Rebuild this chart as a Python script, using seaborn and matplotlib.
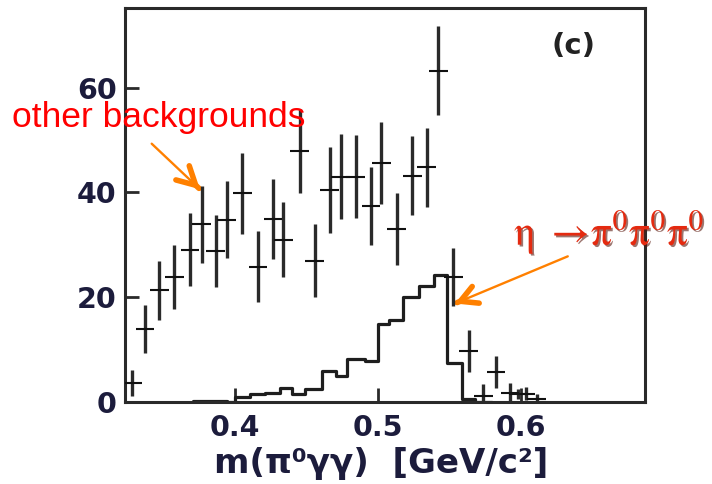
import numpy as np
import pandas as pd
import matplotlib
matplotlib.use("Agg")
import matplotlib.pyplot as plt
import matplotlib.patheffects as pe
import seaborn as sns

# --- data -------------------------------------------------------------
# measured points: m(pi0 gamma gamma) [GeV/c^2], entries and uncertainty
pt_mass = [0.3282, 0.3371, 0.3471, 0.3576, 0.3685, 0.3767, 0.3865, 0.3942,
           0.4052, 0.4161, 0.4266, 0.4338, 0.4452, 0.4557, 0.4662, 0.4738,
           0.4843, 0.4951, 0.5024, 0.5131, 0.5240, 0.5341, 0.5422, 0.5527,
           0.5634, 0.5736, 0.5825, 0.5923, 0.5981, 0.6035, 0.6110]
pt_counts = [3.6, 13.9, 21.3, 23.9, 29.1, 33.9, 28.8, 34.8,
             39.8, 25.8, 34.9, 31.0, 47.9, 27.0, 40.4, 43.0,
             43.0, 37.4, 45.6, 33.0, 43.2, 44.8, 63.2, 23.8,
             9.7, 1.1, 5.7, 1.8, 1.5, 1.6, 0.5]
pt_err = [2.5, 4.6, 5.6, 6.1, 7.0, 7.3, 6.9, 7.3,
          7.8, 6.8, 7.7, 7.1, 8.0, 6.9, 8.2, 8.1,
          7.9, 7.5, 7.8, 6.8, 7.6, 7.5, 8.5, 5.5,
          4.0, 2.4, 3.1, 1.9, 1.0, 1.25, 1.1]
pt_halfwidth = 0.0065

# eta -> 3 pi0 expectation (step histogram)
sig_edges = [0.3706, 0.3825, 0.3944, 0.4000, 0.4105, 0.4210, 0.4315, 0.4397,
             0.4493, 0.4608, 0.4706, 0.4783, 0.4909, 0.5002, 0.5077, 0.5175,
             0.5287, 0.5392, 0.5483, 0.5585, 0.5678, 0.5800]
sig_counts = [0.25, 0.25, 0.0, 0.9, 1.6, 1.8, 2.7, 1.5,
              2.4, 5.9, 4.9, 8.3, 7.9, 14.9, 15.7, 20.1,
              22.2, 24.2, 7.5, 0.6, 0.0]

x_ticks = [0.4, 0.5, 0.6]
x_ticklabels = ["0.4", "0.5", "0.6"]
y_ticks = [0, 20, 40, 60]
y_ticklabels = ["0", "20", "40", "60"]

# --- figure -----------------------------------------------------------
sns.set_theme(style="ticks")
plt.rcParams["font.family"] = ["DejaVu Sans"]
plt.rcParams["mathtext.fontset"] = "stix"

W, H = 712, 484
fig = plt.figure(figsize=(W / 100, H / 100), dpi=100)
fig.patch.set_facecolor("white")
ax = fig.add_axes([125 / W, 82 / H, 520 / W, 394 / H])
ax.set_facecolor("white")

edges = np.array(sig_edges)
sig_df = pd.DataFrame({"mass": 0.5 * (edges[:-1] + edges[1:]),
                       "counts": sig_counts})
sns.histplot(data=sig_df, x="mass", weights="counts", bins=list(sig_edges),
             element="step", fill=False, color="#1e1e1e", linewidth=2.3,
             ax=ax)

ax.errorbar(pt_mass, pt_counts, yerr=pt_err, fmt="none",
            ecolor="#2a2a2a", elinewidth=2.4, capsize=0, zorder=4)
ax.errorbar(pt_mass, pt_counts, xerr=pt_halfwidth, fmt="none",
            ecolor="#111111", elinewidth=1.5, capsize=0, zorder=4)

ax.set_xlim(0.32308, 0.68671)
ax.set_ylim(0, 75.2)
ax.set_xticks(x_ticks)
ax.set_xticklabels(x_ticklabels)
ax.set_yticks(y_ticks)
ax.set_yticklabels(y_ticklabels)
ax.tick_params(axis="both", direction="in", length=10, width=2.0,
               color="#2a2a2a", labelcolor="#1c1c3c", labelsize=20.5)
ax.tick_params(axis="x", pad=9)
ax.tick_params(axis="y", pad=6)
for lab in ax.get_xticklabels() + ax.get_yticklabels():
    lab.set_fontweight("bold")
for s in ax.spines.values():
    s.set_visible(True)
    s.set_linewidth(2.2)
    s.set_color("#2a2a2a")
ax.grid(False)

ax.set_ylabel("")
ax.set_xlabel("m(π⁰γγ)  [GeV/c²]", fontsize=24.5, fontweight="bold",
              color="#1c1c3c")
ax.xaxis.set_label_coords(0.492, -0.155)
ax.xaxis.label.set_va("center")

fig.text(573 / W, 1 - 46 / H, "(c)", ha="center", va="center",
         fontsize=21, fontweight="bold", color="#222222")

# annotations
fig.text(12 / W, 1 - 127 / H, "other backgrounds", color="#ff0000",
         fontsize=25.5, family=["Liberation Sans", "DejaVu Sans"],
         va="baseline", ha="left")
fig.text(514 / W, 1 - 245 / H,
         r"$\mathrm{\eta}\ \rightarrow\!\mathrm{\pi^0\pi^0\pi^0}$",
         color="#e42a10", fontsize=30, va="baseline", ha="left",
         path_effects=[pe.SimplePatchShadow(offset=(1.3, -1.3),
                                            shadow_rgbFace="#5a1a10",
                                            alpha=0.6),
                       pe.Normal()])

arrow_color = "#ff8000"


def orange_arrow(start, tip, head_len, head_wid):
    ax.annotate("", xy=tip, xytext=start,
                arrowprops=dict(arrowstyle="-", lw=1.7, color=arrow_color,
                                shrinkA=0, shrinkB=0),
                annotation_clip=False)
    near = (tip[0] + 0.02 * (start[0] - tip[0]),
            tip[1] + 0.02 * (start[1] - tip[1]))
    ax.annotate("", xy=tip, xytext=near,
                arrowprops=dict(arrowstyle=f"->,head_length={head_len},head_width={head_wid}",
                                lw=4, color=arrow_color, mutation_scale=1,
                                shrinkA=0, shrinkB=0),
                annotation_clip=False)


orange_arrow((0.34175, 49.3), (0.3755, 40.6), 13, 7)
orange_arrow((0.6327, 27.8), (0.5538, 18.8), 12, 6.5)

fig.savefig("out.png", dpi=100, facecolor="white")
